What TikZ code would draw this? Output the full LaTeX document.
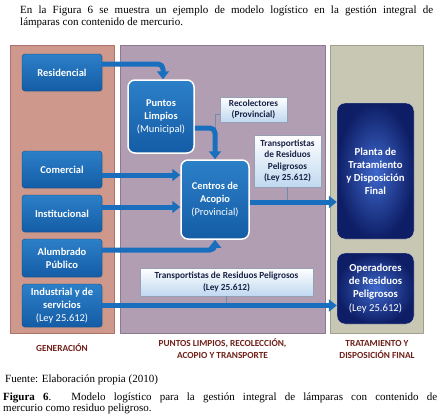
\documentclass[tikz,border=0pt]{standalone}
\usepackage{fontspec}
\setmainfont{Liberation Serif}
\newfontfamily\diagfont{Carlito}
\usetikzlibrary{arrows.meta,shadows}

\definecolor{genfill}{RGB}{206,153,140}
\definecolor{genline}{RGB}{172,116,104}
\definecolor{colfill}{RGB}{178,158,178}
\definecolor{colline}{RGB}{142,122,142}
\definecolor{trtfill}{RGB}{199,199,180}
\definecolor{trtline}{RGB}{160,160,140}
\definecolor{boxtop}{RGB}{44,128,200}
\definecolor{boxbot}{RGB}{20,92,166}
\definecolor{boxline}{RGB}{14,68,128}
\definecolor{flowblue}{RGB}{26,110,190}
\definecolor{notebot}{RGB}{192,216,240}
\definecolor{noteline}{RGB}{150,160,178}
\definecolor{notetext}{RGB}{25,35,70}
\definecolor{navyin}{RGB}{62,104,204}
\definecolor{navyout}{RGB}{14,30,102}
\definecolor{tiegray}{RGB}{110,140,175}
\definecolor{headred}{RGB}{112,32,26}

\begin{document}
\begin{tikzpicture}[
    x=1pt,y=-1pt,
    line join=round,
    panel/.style={line width=0.8pt},
    srcbox/.style={
        rounded corners=3pt,
        draw=boxline,
        line width=0.4pt,
        top color=boxtop,
        bottom color=boxbot,
        text=white,
        font=\diagfont\bfseries\fontsize{10.5}{12.7}\selectfont,
        align=center,
        minimum width=80pt,
        inner sep=1pt,
        drop shadow={opacity=0.35,shadow xshift=1pt,shadow yshift=-1.2pt}
    },
    hubbox/.style={
        rounded corners=7pt,
        draw=white,
        line width=1.5pt,
        top color=boxtop,
        bottom color=boxbot,
        text=white,
        font=\diagfont\bfseries\fontsize{10.4}{13}\selectfont,
        align=center,
        inner sep=1pt
    },
    notebox/.style={
        draw=noteline,
        line width=0.4pt,
        top color=white,
        bottom color=notebot,
        text=notetext,
        font=\diagfont\bfseries\fontsize{9.3}{11.5}\selectfont,
        align=center,
        inner sep=1pt,
        drop shadow={opacity=0.25,shadow xshift=1pt,shadow yshift=-1pt}
    },
    sinkbox/.style={
        rounded corners=8pt,
        draw=gray!40,
        line width=0.4pt,
        inner color=navyin,
        outer color=navyout,
        text=white,
        font=\diagfont\bfseries\fontsize{10.7}{13.1}\selectfont,
        align=center,
        minimum width=77pt,
        inner sep=1pt
    },
    flow/.style={draw=flowblue,line width=5pt,rounded corners=5pt,
        -{Triangle[length=8pt,width=12pt]}},
    tieline/.style={draw=tiegray,line width=0.7pt},
    headlabel/.style={text=headred,font=\diagfont\bfseries\fontsize{9.3}{12}\selectfont,align=center},
    bodytext/.style={font=\fontsize{11}{11.6}\selectfont,inner sep=0pt}
]

\fill[white] (0,0) rectangle (442,416);
\useasboundingbox (0,0) rectangle (442,416);

% columns
\filldraw[panel,fill=genfill,draw=genline] (10,45) rectangle (114,333);
\filldraw[panel,fill=colfill,draw=colline] (120,45) rectangle (325,333);
\filldraw[panel,fill=trtfill,draw=trtline] (330,45) rectangle (423,333);

% sources
\foreach \n/\y/\h/\t in {
    res/72.5/37/Residencial,
    com/169.5/37/Comercial,
    inst/213.5/37/Institucional,
    alum/258/38/{Alumbrado\\Público},
    ind/305.5/43/{Industrial y de\\servicios\\{\mdseries(Ley 25.612)}}}
    \node[srcbox,minimum height=\h pt] (\n) at (62,\y) {\t};

% collection
\node[hubbox,minimum width=66pt,minimum height=73pt] (puntos) at (161,116.5)
    {Puntos\\Limpios\\{\mdseries(Municipal)}};
\node[hubbox,minimum width=68pt,minimum height=79pt] (centros) at (215,199.5)
    {Centros de\\Acopio\\{\mdseries(Provincial)}};

\node[notebox,minimum width=67pt,minimum height=25pt] (recol) at (253.5,109.5)
    {Recolectores\\(Provincial)};
\node[notebox,minimum width=67pt,minimum height=52pt] (transA) at (287.5,161)
    {Transportistas\\de Residuos\\Peligrosos\\(Ley 25.612)};
\node[notebox,minimum width=173pt,minimum height=28pt] (transB) at (226.5,282)
    {Transportistas de Residuos Peligrosos\\(Ley 25.612)};

% treatment
\node[sinkbox,minimum height=136pt] (planta) at (375.5,171)
    {Planta de\\Tratamiento\\y Disposición\\Final};
\node[sinkbox,minimum height=71pt] (oper) at (375.5,288.5)
    {Operadores\\de Residuos\\Peligrosos\\{\mdseries(Ley 25.612)}};

\coordinate (pcorner) at (centros.north |- 0,128);

\draw[tieline] ([yshift=-4.5pt]recol.west) -| (pcorner);
\draw[tieline] (transA.south) -- (transA.south |- 0,202);
\draw[tieline] (transB.south) -- (transB.south |- ind.east);

\draw[flow] (res.east |- 0,64) -| ([xshift=2pt]puntos.north);
\draw[flow] (puntos.east |- 0,128) -| (centros.north);
\draw[flow] (com.east |- 0,175) -- (centros.west |- 0,175);
\draw[flow] (inst.east |- 0,207) -- (centros.west |- 0,207);
\draw[flow] (alum.east |- 0,250) -| (centros.south);
\draw[flow] (centros.east |- 0,202) -- (planta.west |- 0,202);
\draw[flow] (ind.east) -- (ind.east -| oper.west);

% column titles
\node[headlabel] (gentitle) at (62,348) {GENERACIÓN};
\node[headlabel] (coltitle) at (222.5,349) {PUNTOS LIMPIOS, RECOLECCIÓN,\\ACOPIO Y TRANSPORTE};
\node[headlabel] (trttitle) at (377,349) {TRATAMIENTO Y\\DISPOSICIÓN FINAL};

% surrounding text
\node[bodytext,anchor=north west,text width=413pt,align=justify] (intro) at (20,6)
    {En la Figura 6 se muestra un ejemplo de modelo logístico en la gestión integral de\linebreak
     lámparas con contenido de mercurio.};
\node[bodytext,anchor=base west] (source) at (5,382.5) {Fuente: Elaboración propia (2010)};
\node[bodytext,anchor=north west,text width=434pt,align=justify] (caption) at (3,392.5)
    {\textbf{Figura 6}. Modelo logístico para la gestión integral de lámparas con contenido de\linebreak
     mercurio como residuo peligroso.};

\end{tikzpicture}
\end{document}
